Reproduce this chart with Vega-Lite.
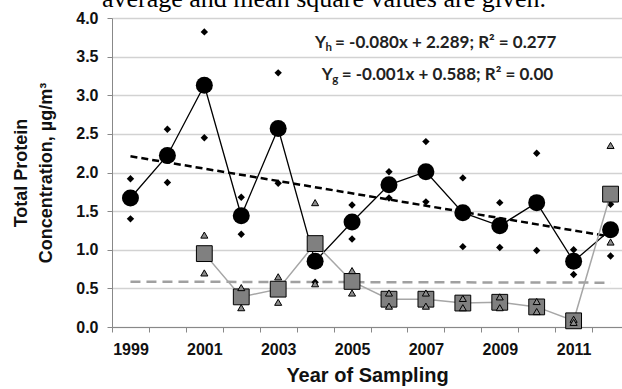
{
  "$schema": "https://vega.github.io/schema/vega-lite/v6.json",
  "width": 510,
  "height": 309,
  "autosize": "none",
  "padding": {"left": 112, "top": 18, "right": 0, "bottom": 62},
  "background": "white",
  "title": {
    "text": "average and mean square values are given.",
    "font": "Liberation Serif",
    "fontSize": 26,
    "fontWeight": "normal",
    "color": "#000000",
    "anchor": "start",
    "frame": "group",
    "dx": -10,
    "dy": 23,
    "offset": 0,
    "baseline": "alphabetic"
  },
  "config": {
    "view": {"stroke": null},
    "axis": {
      "labelFont": "Liberation Sans",
      "labelFontWeight": "bold",
      "labelFontSize": 16,
      "labelColor": "#111111",
      "titleFont": "Liberation Sans",
      "titleFontWeight": "bold",
      "titleColor": "#111111",
      "domainColor": "#888888",
      "tickColor": "#888888",
      "tickSize": 5
    }
  },
  "data": {
    "values": [
      {"type": "h_trend", "year": 1999, "value": 2.21},
      {"type": "h_trend", "year": 2012, "value": 1.17},
      {"type": "g_trend", "year": 1999, "value": 0.587},
      {"type": "g_trend", "year": 2012, "value": 0.574},
      {"type": "h_mean", "year": 1999, "value": 1.67},
      {"type": "h_mean", "year": 2000, "value": 2.22},
      {"type": "h_mean", "year": 2001, "value": 3.13},
      {"type": "h_mean", "year": 2002, "value": 1.44},
      {"type": "h_mean", "year": 2003, "value": 2.57},
      {"type": "h_mean", "year": 2004, "value": 0.85},
      {"type": "h_mean", "year": 2005, "value": 1.36},
      {"type": "h_mean", "year": 2006, "value": 1.84},
      {"type": "h_mean", "year": 2007, "value": 2.01},
      {"type": "h_mean", "year": 2008, "value": 1.48},
      {"type": "h_mean", "year": 2009, "value": 1.31},
      {"type": "h_mean", "year": 2010, "value": 1.61},
      {"type": "h_mean", "year": 2011, "value": 0.85},
      {"type": "h_mean", "year": 2012, "value": 1.26},
      {"type": "h_sample", "year": 1999, "value": 1.92},
      {"type": "h_sample", "year": 1999, "value": 1.40},
      {"type": "h_sample", "year": 2000, "value": 2.56},
      {"type": "h_sample", "year": 2000, "value": 1.87},
      {"type": "h_sample", "year": 2001, "value": 3.82},
      {"type": "h_sample", "year": 2001, "value": 2.45},
      {"type": "h_sample", "year": 2002, "value": 1.68},
      {"type": "h_sample", "year": 2002, "value": 1.20},
      {"type": "h_sample", "year": 2003, "value": 3.29},
      {"type": "h_sample", "year": 2003, "value": 1.86},
      {"type": "h_sample", "year": 2004, "value": 1.12},
      {"type": "h_sample", "year": 2004, "value": 0.58},
      {"type": "h_sample", "year": 2005, "value": 1.58},
      {"type": "h_sample", "year": 2005, "value": 1.14},
      {"type": "h_sample", "year": 2006, "value": 2.01},
      {"type": "h_sample", "year": 2006, "value": 1.67},
      {"type": "h_sample", "year": 2007, "value": 2.40},
      {"type": "h_sample", "year": 2007, "value": 1.62},
      {"type": "h_sample", "year": 2008, "value": 1.93},
      {"type": "h_sample", "year": 2008, "value": 1.04},
      {"type": "h_sample", "year": 2009, "value": 1.61},
      {"type": "h_sample", "year": 2009, "value": 1.03},
      {"type": "h_sample", "year": 2010, "value": 2.25},
      {"type": "h_sample", "year": 2010, "value": 0.99},
      {"type": "h_sample", "year": 2011, "value": 1.00},
      {"type": "h_sample", "year": 2011, "value": 0.68},
      {"type": "h_sample", "year": 2012, "value": 1.59},
      {"type": "h_sample", "year": 2012, "value": 0.92},
      {"type": "g_mean", "year": 2001, "value": 0.95},
      {"type": "g_mean", "year": 2002, "value": 0.39},
      {"type": "g_mean", "year": 2003, "value": 0.49},
      {"type": "g_mean", "year": 2004, "value": 1.08},
      {"type": "g_mean", "year": 2005, "value": 0.59},
      {"type": "g_mean", "year": 2006, "value": 0.36},
      {"type": "g_mean", "year": 2007, "value": 0.36},
      {"type": "g_mean", "year": 2008, "value": 0.31},
      {"type": "g_mean", "year": 2009, "value": 0.32},
      {"type": "g_mean", "year": 2010, "value": 0.26},
      {"type": "g_mean", "year": 2011, "value": 0.08},
      {"type": "g_mean", "year": 2012, "value": 1.72},
      {"type": "g_sample", "year": 2001, "value": 1.19},
      {"type": "g_sample", "year": 2001, "value": 0.70},
      {"type": "g_sample", "year": 2002, "value": 0.51},
      {"type": "g_sample", "year": 2002, "value": 0.25},
      {"type": "g_sample", "year": 2003, "value": 0.65},
      {"type": "g_sample", "year": 2003, "value": 0.32},
      {"type": "g_sample", "year": 2004, "value": 1.61},
      {"type": "g_sample", "year": 2004, "value": 0.56},
      {"type": "g_sample", "year": 2005, "value": 0.73},
      {"type": "g_sample", "year": 2005, "value": 0.44},
      {"type": "g_sample", "year": 2006, "value": 0.44},
      {"type": "g_sample", "year": 2006, "value": 0.27},
      {"type": "g_sample", "year": 2007, "value": 0.44},
      {"type": "g_sample", "year": 2007, "value": 0.27},
      {"type": "g_sample", "year": 2008, "value": 0.37},
      {"type": "g_sample", "year": 2008, "value": 0.25},
      {"type": "g_sample", "year": 2009, "value": 0.39},
      {"type": "g_sample", "year": 2009, "value": 0.25},
      {"type": "g_sample", "year": 2010, "value": 0.33},
      {"type": "g_sample", "year": 2010, "value": 0.20},
      {"type": "g_sample", "year": 2011, "value": 0.10},
      {"type": "g_sample", "year": 2011, "value": 0.06},
      {"type": "g_sample", "year": 2012, "value": 2.35},
      {"type": "g_sample", "year": 2012, "value": 1.10},
      {"type": "ann", "year": 2004.0, "value": 3.68, "t1": "Y", "t2": "h", "t3": "= -0.080x + 2.289; R² = 0.277"},
      {"type": "ann", "year": 2004.18, "value": 3.26, "t1": "Y", "t2": "g", "t3": "= -0.001x + 0.588; R² = 0.00"}
    ]
  },
  "encoding": {
    "x": {
      "field": "year",
      "type": "quantitative",
      "scale": {"domain": [1998.5, 2012.31], "nice": false, "zero": false},
      "axis": {
        "values": [1998.5, 1999.5, 2000.5, 2001.5, 2002.5, 2003.5, 2004.5, 2005.5, 2006.5, 2007.5, 2008.5, 2009.5, 2010.5, 2011.5],
        "labelExpr": "(datum.value + 0.5) % 2 == 1 ? toString(datum.value + 0.5) : ''",
        "labelOffset": 18.5,
        "labelOverlap": false,
        "labelBound": false,
        "labelFlush": false,
        "labelPadding": 9,
        "grid": false,
        "title": "Year of Sampling",
        "titleFontSize": 20,
        "titlePadding": 8
      }
    },
    "y": {
      "field": "value",
      "type": "quantitative",
      "scale": {"domain": [0, 4], "nice": false},
      "axis": {
        "values": [0, 0.5, 1, 1.5, 2, 2.5, 3, 3.5, 4],
        "format": ".1f",
        "grid": true,
        "gridColor": "#d2d2d2",
        "gridWidth": 1.3,
        "labelPadding": 9,
        "title": ["Total Protein", "Concentration, µg/m³"],
        "titleFontSize": 18,
        "titleLineHeight": 25,
        "titlePadding": 20
      }
    }
  },
  "layer": [
    {
      "transform": [{"filter": "datum.type === 'h_trend'"}],
      "mark": {"type": "line", "color": "#000000", "strokeWidth": 2.5, "strokeDash": [7, 4]}
    },
    {
      "transform": [{"filter": "datum.type === 'g_trend'"}],
      "mark": {"type": "line", "color": "#a0a0a0", "strokeWidth": 2.5, "strokeDash": [10, 6]}
    },
    {
      "transform": [{"filter": "datum.type === 'h_mean'"}],
      "mark": {"type": "line", "color": "#000000", "strokeWidth": 1.3}
    },
    {
      "transform": [{"filter": "datum.type === 'h_mean'"}],
      "mark": {"type": "point", "shape": "circle", "filled": true, "color": "#000000", "size": 289, "opacity": 1}
    },
    {
      "transform": [{"filter": "datum.type === 'h_sample'"}],
      "mark": {"type": "point", "shape": "diamond", "filled": true, "color": "#000000", "size": 55, "opacity": 1}
    },
    {
      "transform": [{"filter": "datum.type === 'g_mean'"}],
      "mark": {"type": "line", "color": "#a6a6a6", "strokeWidth": 1.5}
    },
    {
      "transform": [{"filter": "datum.type === 'g_mean'"}],
      "mark": {"type": "point", "shape": "square", "filled": true, "fill": "#808080", "stroke": "#000000", "strokeWidth": 1, "size": 250, "opacity": 1}
    },
    {
      "transform": [{"filter": "datum.type === 'g_sample'"}],
      "mark": {"type": "point", "shape": "triangle-up", "filled": true, "fill": "#8c8c8c", "stroke": "#000000", "strokeWidth": 1, "size": 50, "opacity": 1}
    },
    {
      "transform": [{"filter": "datum.type === 'ann'"}],
      "mark": {"type": "text", "font": "Lato", "fontWeight": "bold", "fontSize": 17, "align": "left", "baseline": "middle", "color": "#222222"},
      "encoding": {"text": {"field": "t1"}}
    },
    {
      "transform": [{"filter": "datum.type === 'ann'"}],
      "mark": {"type": "text", "font": "Lato", "fontWeight": "bold", "fontSize": 11.5, "align": "left", "baseline": "middle", "dx": 10.5, "dy": 5, "color": "#222222"},
      "encoding": {"text": {"field": "t2"}}
    },
    {
      "transform": [{"filter": "datum.type === 'ann'"}],
      "mark": {"type": "text", "font": "Lato", "fontWeight": "bold", "fontSize": 17, "align": "left", "baseline": "middle", "dx": 20, "color": "#222222"},
      "encoding": {"text": {"field": "t3"}}
    }
  ]
}
